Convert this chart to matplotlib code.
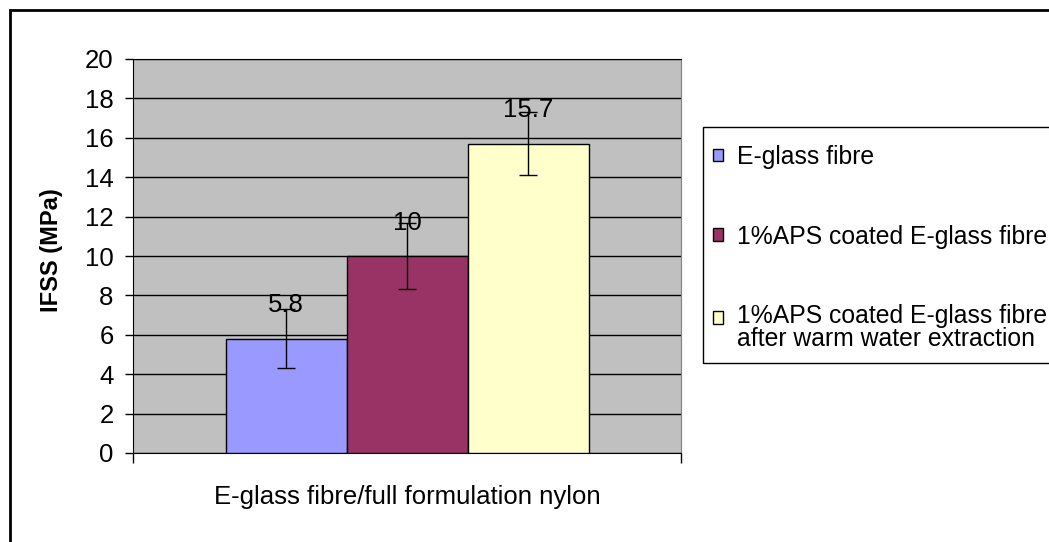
import numpy as np
import matplotlib.pyplot as plt
from matplotlib.patches import Rectangle
from matplotlib.legend_handler import HandlerPatch

plt.rcParams['font.family'] = ['Liberation Sans', 'DejaVu Sans']

# data
category = 'E-glass fibre/full formulation nylon'
series = ['E-glass fibre',
          '1%APS coated E-glass fibre',
          '1%APS coated E-glass fibre\nafter warm water extraction']
ifss = [5.8, 10.0, 15.7]
err = [1.5, 1.65, 1.6]
colors = ['#9999FF', '#993366', '#FFFFCC']

W, H = 1049, 542
fig = plt.figure(figsize=(W / 100, H / 100), dpi=100)
fig.patch.set_facecolor('white')

# outer chart border (right/bottom run off the image)
fig.patches.append(Rectangle((10 / W, -0.1), 1.2, 1 - 10 / H + 0.1,
                             transform=fig.transFigure, fill=False,
                             edgecolor='black', lw=2))

ax = fig.add_axes([133 / W, 1 - 453 / H, 548 / W, 394 / H])
ax.set_facecolor('#C0C0C0')

bw = 1.0
xs = (np.arange(len(ifss)) - 1) * bw
handles = []
for i in range(len(ifss)):
    bars = ax.bar(xs[i], ifss[i], width=bw, color=colors[i], edgecolor='black',
                  lw=1, label=series[i], zorder=3)
    handles.append(bars.patches[0])
    ax.errorbar(xs[i], ifss[i], yerr=err[i], fmt='none', ecolor='black',
                elinewidth=1, capsize=6.5, capthick=1, zorder=4)
    ax.annotate(f'{ifss[i]:g}', (xs[i], ifss[i]), xytext=(0, 24),
                textcoords='offset points', ha='center', va='center',
                fontsize=18.5, zorder=5)

half = 548 / 121 / 2 * bw
ax.set_xlim(-half, half)
ax.set_ylim(0, 20)
ax.set_yticks(np.arange(0, 21, 2))
ax.yaxis.grid(True, color='black', lw=1)
ax.set_axisbelow(True)
ax.tick_params(axis='y', direction='out', length=6, width=1, pad=8,
               labelsize=18.5)

ax.set_xticks([0], labels=[category])
ax.tick_params(axis='x', which='major', length=0, pad=23, labelsize=18.5)
ax.set_xticks([-half, half], minor=True)
ax.tick_params(axis='x', which='minor', direction='out', length=7.5, width=1)

ax.set_ylabel('IFSS (MPa)', fontsize=17, fontweight='bold')
ax.yaxis.set_label_coords(-0.128, 0.515)

for s in ['left', 'bottom', 'top']:
    ax.spines[s].set_color('black')
ax.spines['right'].set_color('#808080')


def first_line_patch(legend, orig_handle, xdescent, ydescent, width, height,
                     fontsize):
    # keep the swatch level with the first line of a two-line label
    return Rectangle((-xdescent, -ydescent + 0.45 * fontsize), width, height)


leg_fs = 17.8
leg = fig.legend(handles, series, loc='upper left',
                 bbox_to_anchor=(703 / W, 1 - 135 / H),
                 fontsize=leg_fs, frameon=False, borderpad=0.4,
                 labelspacing=2.25, handlelength=0.42, handleheight=0.42,
                 handletextpad=0.55, borderaxespad=0,
                 handler_map={handles[2]: HandlerPatch(patch_func=first_line_patch)})
leg.get_texts()[2].set_linespacing(0.95)

# legend frame
fig.patches.append(Rectangle((703 / W, 1 - 363 / H), 0.5, 236 / H,
                             transform=fig.transFigure, fill=False,
                             edgecolor='black', lw=1))

fig.savefig('out.png', dpi=100)
